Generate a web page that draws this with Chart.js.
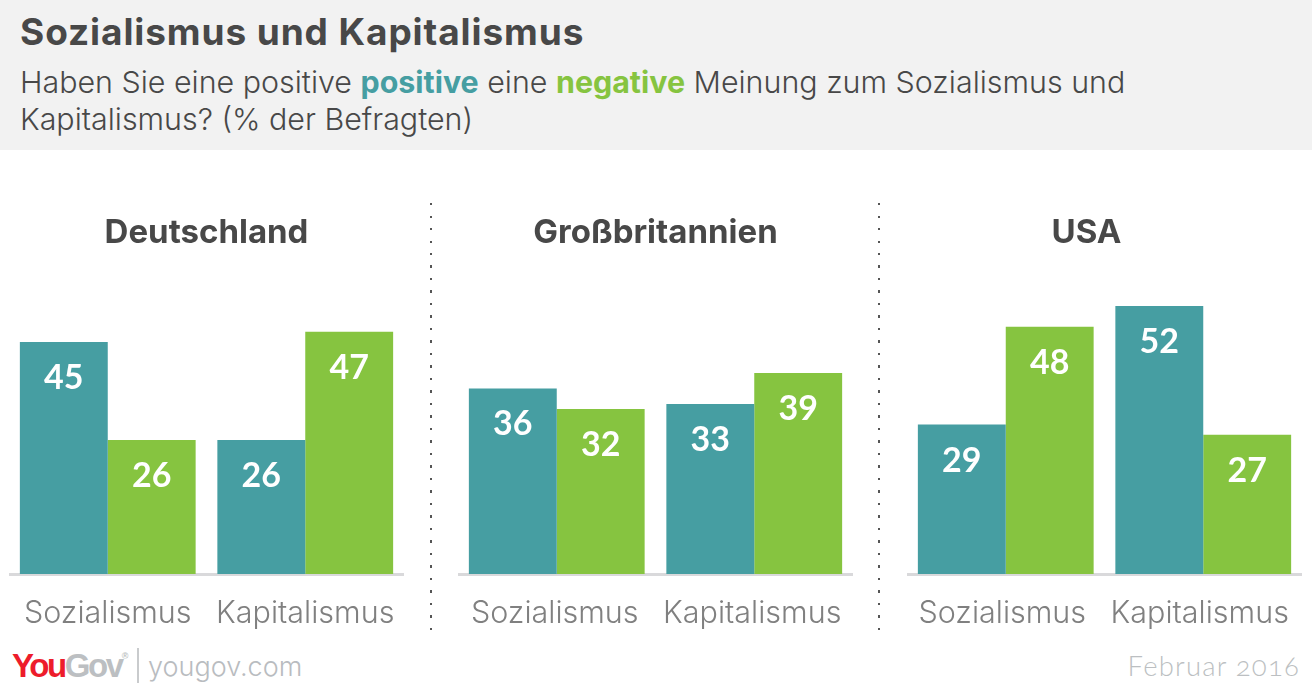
<!DOCTYPE html>
<html>
<head>
<meta charset="utf-8">
<script src="https://cdn.jsdelivr.net/npm/chart.js@4"></script>
<style>
html,body{margin:0;padding:0;background:#fff;}
body{position:relative;width:1312px;height:684px;overflow:hidden;font-family:Inter,sans-serif;color:#484848;}
#head{position:absolute;left:0;top:0;width:1312px;height:150px;background:#f2f2f2;}
#title{position:absolute;left:20px;top:10px;font-size:37px;line-height:44px;font-weight:700;letter-spacing:.9px;white-space:nowrap;}
#sub{position:absolute;left:20px;top:64px;font-size:30.4px;line-height:37px;font-weight:300;white-space:nowrap;}
#sub b{font-weight:700;}
#sub b.p{color:#469ea2;}
#sub b.n{color:#86c440;}
canvas{position:absolute;}
.wrap{position:absolute;top:205px;width:395px;height:429px;}
.dots{position:absolute;top:203px;width:2px;height:428px;background:repeating-linear-gradient(to bottom,#555 0,#555 2px,transparent 2px,transparent 12.5px);}
#logo{position:absolute;left:12px;top:646px;font-family:"Liberation Sans",sans-serif;font-weight:700;font-size:33px;line-height:40px;letter-spacing:-2.4px;white-space:nowrap;}
#logo .y{color:#ed1c2b;}
#logo .g{color:#bcbfc2;}
#logo sup{font-size:9px;letter-spacing:0;vertical-align:18px;line-height:0;}
#bar{position:absolute;left:137px;top:648px;width:2px;height:35px;background:#c9cbcd;}
#url{position:absolute;left:148px;top:648px;font-size:27px;font-weight:300;line-height:38px;color:#b9bcc0;}
#date{position:absolute;right:12px;top:647px;font-family:Lato,sans-serif;font-size:27.5px;font-weight:300;line-height:38px;color:#bcbfc2;font-variant-numeric:oldstyle-nums;letter-spacing:1.2px;}
</style>
</head>
<body>
<div id="head">
  <div id="title">Sozialismus und Kapitalismus</div>
  <div id="sub">Haben Sie eine positive <b class="p">positive</b> eine <b class="n">negative</b> Meinung zum Sozialismus und<br>Kapitalismus? (% der Befragten)</div>
</div>
<div class="wrap" style="left:8.75px"><canvas id="c0"></canvas></div>
<div class="wrap" style="left:457.5px"><canvas id="c1"></canvas></div>
<div class="wrap" style="left:906.5px"><canvas id="c2"></canvas></div>
<div class="dots" style="left:430px"></div>
<div class="dots" style="left:878px"></div>
<div id="logo"><span class="y">You</span><span class="g">Gov<sup>®</sup></span></div>
<div id="bar"></div>
<div id="url">yougov.com</div>
<div id="date">Februar 2016</div>
<script>
const categories=['Sozialismus','Kapitalismus'];
const countries=['Deutschland','Großbritannien','USA'];
const positiveValues=[[45,26],[36,33],[29,52]];
const negativeValues=[[26,47],[32,39],[48,27]];
const TEAL='#469ea2';
const GREEN='#86c440';
// the original's headings and labels sit a little off centre in some panels
const TITLE_SHIFT=[0,0,-18];
const TICK_SHIFT=[0,-2,-3.5];

// white value inside each bar, below its top edge
const valueLabels={
  id:'valueLabels',
  afterDatasetsDraw(chart){
    const {ctx}=chart;
    ctx.save();
    ctx.fillStyle='#fff';
    ctx.font='700 34px Lato';
    ctx.textAlign='center';
    ctx.textBaseline='middle';
    chart.data.datasets.forEach((ds,i)=>{
      chart.getDatasetMeta(i).data.forEach((bar,j)=>{
        ctx.fillText(ds.data[j],bar.x,bar.y+36);
      });
    });
    ctx.restore();
  }
};

const shiftTitle={
  id:'shiftTitle',
  afterLayout(chart,args,opts){
    chart.titleBlock.left+=opts.dx;
    chart.titleBlock.right+=opts.dx;
  }
};

countries.forEach((country,i)=>{
  new Chart(document.getElementById('c'+i),{
    type:'bar',
    plugins:[valueLabels,shiftTitle],
    data:{
      labels:categories,
      datasets:[
        {label:'positive',data:positiveValues[i],backgroundColor:TEAL},
        {label:'negative',data:negativeValues[i],backgroundColor:GREEN}
      ]
    },
    options:{
      responsive:true,
      maintainAspectRatio:false,
      animation:false,
      layout:{padding:0},
      barPercentage:1,
      categoryPercentage:0.89,
      plugins:{
        legend:{display:false},
        tooltip:{enabled:false},
        shiftTitle:{dx:TITLE_SHIFT[i]},
        title:{display:true,text:country,color:'#484848',font:{family:'Inter',size:33,weight:'700',lineHeight:1.2},padding:{top:7.8,bottom:12.4}}
      },
      scales:{
        x:{
          afterFit:scale=>{scale.height=60;scale.paddingLeft=0;scale.paddingRight=0;},
          grid:{display:false,drawTicks:false},
          border:{color:'#d9d9db',width:3},
          ticks:{color:'#808080',font:{family:'Inter',size:30.5,weight:'300'},padding:22,maxRotation:0,labelOffset:TICK_SHIFT[i]}
        },
        y:{display:false,min:0,max:60}
      }
    }
  });
});
</script>
</body>
</html>
